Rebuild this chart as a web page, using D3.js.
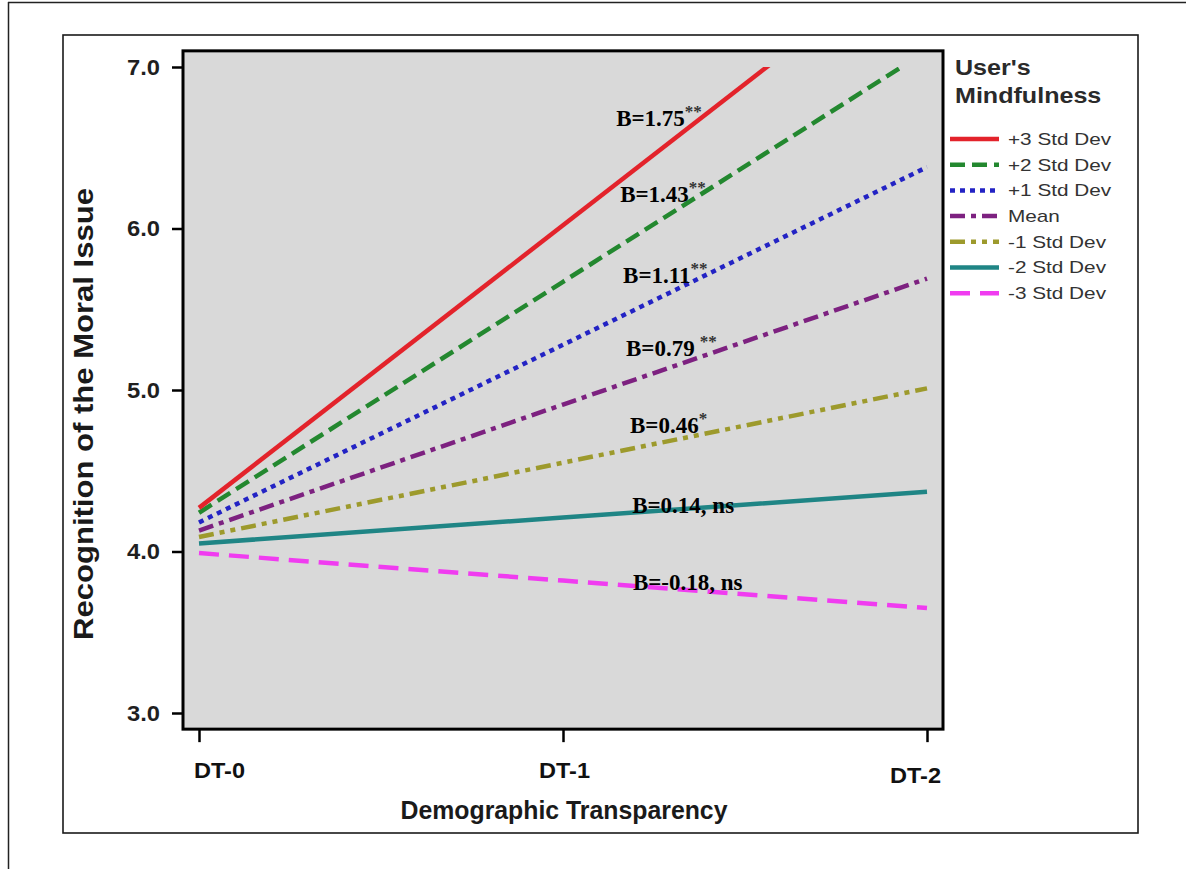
<!DOCTYPE html>
<html>
<head>
<meta charset="utf-8">
<script src="https://cdn.jsdelivr.net/npm/d3@7"></script>
<style>
  html, body { margin: 0; padding: 0; background: #ffffff; }
  svg { display: block; }
</style>
</head>
<body>
<svg id="chart" width="1186" height="869"></svg>
<script>
// ---------- DATA ----------
const categories = ["DT-0", "DT-1", "DT-2"];
const seriesNames = ["+3 Std Dev", "+2 Std Dev", "+1 Std Dev", "Mean", "-1 Std Dev", "-2 Std Dev", "-3 Std Dev"];
const plus3 = [4.27, 6.02, 7.77];
const plus2 = [4.24, 5.67, 7.10];
const plus1 = [4.18, 5.28, 6.38];
const meanVals = [4.13, 4.91, 5.69];
const minus1 = [4.09, 4.55, 5.01];
const minus2 = [4.05, 4.21, 4.37];
const minus3 = [3.99, 3.82, 3.65];
const yTicks = [3.0, 4.0, 5.0, 6.0, 7.0];
const slopeText = ["B=1.75", "B=1.43", "B=1.11", "B=0.79", "B=0.46", "B=0.14, ns", "B=-0.18, ns"];
const slopeSup = ["**", "**", "**", "**", "*", "", ""];
// label anchors in data units (x along DT axis, y in scale units)
const labelAtX = [1.146, 1.157, 1.165, 1.173, 1.184, 1.190, 1.192];
const labelAtY = [6.635, 6.164, 5.663, 5.211, 4.734, 4.238, 3.762];
const legendTitle = ["User's", "Mindfulness"];
const xTitle = "Demographic Transparency";
const yTitle = "Recognition of the Moral Issue";

const allSeries = [plus3, plus2, plus1, meanVals, minus1, minus2, minus3];

// ---------- STYLE ----------
const colors = ["#e3232b", "#23882f", "#2323c4", "#7d2180", "#9d9a2c", "#1f8585", "#f03cf0"];
const dashes = [null, "15 7", "5 5", "15 6 5 6", "15 6 5 6 5 6", null, "20 10"];
const sans = "'Liberation Sans', Arial, Helvetica, sans-serif";
const serif = "'Liberation Serif', 'Times New Roman', Times, serif";

const svg = d3.select("#chart");

function stretch(sel, f) {
  sel.each(function () {
    const w = this.getComputedTextLength();
    this.setAttribute("textLength", (w * f).toFixed(1));
    this.setAttribute("lengthAdjust", "spacingAndGlyphs");
  });
}

// page frame lines
svg.append("line").attr("x1", 8).attr("x2", 1186).attr("y1", 2.5).attr("y2", 2.5)
  .attr("stroke", "#222").attr("stroke-width", 1.5);
svg.append("line").attr("x1", 8.5).attr("x2", 8.5).attr("y1", 2).attr("y2", 869)
  .attr("stroke", "#222").attr("stroke-width", 1.5);

// image box
svg.append("rect").attr("x", 63).attr("y", 35).attr("width", 1075).attr("height", 798)
  .attr("fill", "#ffffff").attr("stroke", "#1a1a1a").attr("stroke-width", 1.6);

// ---------- SCALES ----------
const x = d3.scalePoint().domain(categories).range([199, 927]);
const xLin = d3.scaleLinear().domain([0, 2]).range([199, 927]);
const y = d3.scaleLinear().domain([3, 7]).range([713, 67]);

const plotL = 183, plotR = 943, plotT = y(7.1), plotB = y(2.9);

// plot background
svg.append("rect").attr("x", plotL).attr("y", plotT).attr("width", plotR - plotL).attr("height", plotB - plotT)
  .attr("fill", "#d9d9d9");

// clip at 7.0
svg.append("defs").append("clipPath").attr("id", "clip")
  .append("rect").attr("x", plotL).attr("y", y(7.0)).attr("width", plotR - plotL).attr("height", plotB - y(7.0));

// lines
const line = d3.line().x((d, i) => x(categories[i])).y(d => y(d));
const gLines = svg.append("g").attr("clip-path", "url(#clip)");
for (let s = allSeries.length - 1; s >= 0; s--) {
  gLines.append("path").datum(allSeries[s])
    .attr("d", line)
    .attr("fill", "none")
    .attr("stroke", colors[s])
    .attr("stroke-width", 4.5)
    .attr("stroke-dasharray", dashes[s])
    .attr("stroke-linecap", "butt");
}

// plot border
svg.append("rect").attr("x", plotL).attr("y", plotT).attr("width", plotR - plotL).attr("height", plotB - plotT)
  .attr("fill", "none").attr("stroke", "#000").attr("stroke-width", 3);

// y axis
const yAxis = d3.axisLeft(y).tickValues(yTicks).tickFormat(d3.format(".1f")).tickSize(11).tickPadding(12);
const gy = svg.append("g").attr("transform", `translate(${plotL},0)`).call(yAxis);
gy.select(".domain").remove();
gy.selectAll(".tick line").attr("stroke", "#000").attr("stroke-width", 2.5);
gy.selectAll(".tick text").attr("font-family", sans).attr("font-weight", "bold")
  .attr("font-size", 22).attr("fill", "#1f1f1f").attr("dy", "0.34em");
stretch(gy.selectAll(".tick text"), 1.08);

// x axis
const xAxis = d3.axisBottom(x).tickSize(13).tickPadding(20);
const gx = svg.append("g").attr("transform", `translate(0,${plotB})`).call(xAxis);
gx.select(".domain").remove();
gx.selectAll(".tick line").attr("stroke", "#000").attr("stroke-width", 2.5);
const xLabelDx = [20, 1, -12];
const xLabelDy = [0, 0, 5];
gx.selectAll(".tick text").attr("font-family", sans).attr("font-weight", "bold")
  .attr("font-size", 22).attr("fill", "#111")
  .attr("dy", "0.71em")
  .attr("transform", (d, i) => `translate(${xLabelDx[i]},${xLabelDy[i]})`);
stretch(gx.selectAll(".tick text"), 1.07);

// axis titles
svg.append("text").attr("x", 564).attr("y", 819).attr("text-anchor", "middle")
  .attr("font-family", sans).attr("font-weight", "bold").attr("font-size", 25).attr("fill", "#1a1a1a")
  .attr("textLength", 327).attr("lengthAdjust", "spacingAndGlyphs")
  .text(xTitle);
svg.append("text").attr("transform", "translate(93,414) rotate(-90)").attr("text-anchor", "middle")
  .attr("font-family", sans).attr("font-weight", "bold").attr("font-size", 27).attr("fill", "#1a1a1a")
  .attr("textLength", 452).attr("lengthAdjust", "spacingAndGlyphs")
  .text(yTitle);

// slope annotations
const gAnn = svg.append("g");
slopeText.forEach((t, i) => {
  const tx = gAnn.append("text").attr("x", xLin(labelAtX[i])).attr("y", y(labelAtY[i]))
    .attr("font-family", serif).attr("font-weight", "bold").attr("font-size", 23).attr("fill", "#000");
  tx.append("tspan").text(t);
  if (slopeSup[i]) {
    tx.append("tspan").attr("font-size", 17).attr("dy", -9).attr("dx", i === 3 ? 5 : 0)
      .attr("fill", "#333").text(slopeSup[i]);
  }
});

// legend
const gLeg = svg.append("g");
gLeg.selectAll("text.title").data(legendTitle).enter().append("text")
  .attr("class", "title")
  .attr("x", 955).attr("y", (d, i) => 75 + i * 28)
  .attr("font-family", sans).attr("font-weight", "bold").attr("font-size", 22).attr("fill", "#2a2a2a")
  .text(d => d);
stretch(gLeg.selectAll("text.title"), 1.14);

const legY0 = 139, legStep = 25.7;
seriesNames.forEach((name, i) => {
  const yy = legY0 + i * legStep;
  gLeg.append("line").attr("x1", 950).attr("x2", 999).attr("y1", yy).attr("y2", yy)
    .attr("stroke", colors[i]).attr("stroke-width", 4.5)
    .attr("stroke-dasharray", dashes[i]);
  gLeg.append("text").attr("class", "item").attr("x", 1008).attr("y", yy).attr("dy", "0.35em")
    .attr("font-family", sans).attr("font-size", 17).attr("fill", "#333")
    .text(name);
});
stretch(gLeg.selectAll("text.item"), 1.22);
</script>
</body>
</html>
